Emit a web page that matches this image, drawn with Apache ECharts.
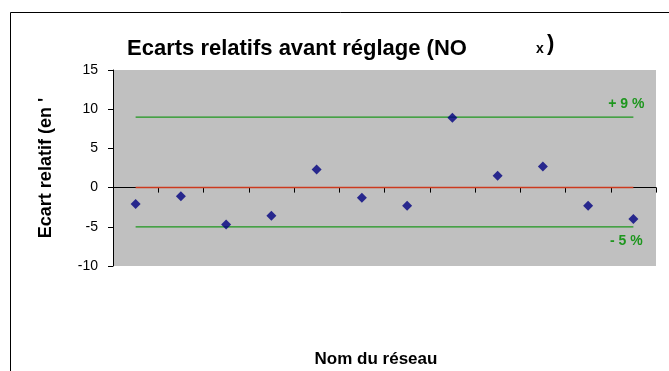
<!DOCTYPE html>
<html>
<head>
<meta charset="utf-8">
<script src="https://cdn.jsdelivr.net/npm/echarts@6/dist/echarts.min.js"></script>
<style>html,body{margin:0;padding:0;background:#fff}#c{width:669px;height:371px}</style>
</head>
<body>
<div id="c"></div>
<script>
var categories = ['1','2','3','4','5','6','7','8','9','10','11','12'];
var ecarts = [-2.1, -1.1, -4.7, -3.6, 2.3, -1.3, -2.3, 8.9, 1.5, 2.7, -2.3, -4.0];
var upperLimit = 9;
var lowerLimit = -5;
var zeroLine = 0;
var yTicks = {min: -10, max: 15, interval: 5};

var FONT = 'Liberation Sans, Arial, sans-serif';
var GREEN = '#1E961E';
var RED = '#CC3A1E';

function constant(v) { return categories.map(function(){ return v; }); }
function labelled(v, text, pos) {
  var arr = constant(v).map(function(x){ return {value: x}; });
  arr[arr.length - 1] = {
    value: v,
    label: {show: true, formatter: text, position: pos, align: 'center',
            offset: [-7, pos === 'top' ? -1 : 2],
            color: GREEN, fontFamily: FONT, fontWeight: 'bold', fontSize: 14}
  };
  return arr;
}

var chart = echarts.init(document.getElementById('c'), null, {renderer: 'canvas'});
chart.setOption({
  animation: false,
  backgroundColor: '#fff',
  title: {
    text: 'Ecarts relatifs avant réglage (NO',
    left: 122, top: 33,
    textStyle: {fontFamily: FONT, fontWeight: 'bold', fontSize: 22, color: '#000'}
  },
  graphic: [
    {type: 'rect', left: 8, top: 10, shape: {width: 700, height: 400},
     style: {fill: 'none', stroke: '#000', lineWidth: 1}, silent: true, z: 100},
    {type: 'text', x: 536, y: 42,
     style: {text: 'x', font: 'bold 14px ' + FONT, fill: '#000'}},
    {type: 'text', x: 547, y: 33,
     style: {text: ')', font: 'bold 22px ' + FONT, fill: '#000'}},
    {type: 'text', x: 376, y: 351,
     style: {text: 'Nom du réseau', font: 'bold 17px ' + FONT, fill: '#000', align: 'center'}}
  ],
  grid: {left: 113, right: 13, top: 70, bottom: 105, show: true,
         backgroundColor: '#C0C0C0', borderWidth: 0},
  xAxis: {
    type: 'category', data: categories, boundaryGap: true,
    axisLine: {lineStyle: {color: '#000', width: 1}},
    axisTick: {show: true, length: 5, lineStyle: {color: '#000'}},
    axisLabel: {show: false},
    splitLine: {show: false}
  },
  yAxis: {
    type: 'value', min: yTicks.min, max: yTicks.max, interval: yTicks.interval,
    name: "Ecart relatif (en '", nameLocation: 'middle', nameGap: 58, nameRotate: 90,
    nameTextStyle: {fontFamily: FONT, fontWeight: 'bold', fontSize: 18, color: '#000'},
    axisLine: {show: true, lineStyle: {color: '#000', width: 1}},
    axisTick: {show: true, length: 5, lineStyle: {color: '#000'}},
    axisLabel: {fontFamily: FONT, fontSize: 14, color: '#000', margin: 15},
    splitLine: {show: false}
  },
  series: [
    {type: 'line', data: labelled(upperLimit, '+ 9 %', 'top'), symbol: 'circle', symbolSize: 0, showSymbol: true,
     lineStyle: {color: GREEN, width: 1.3}, z: 2},
    {type: 'line', data: labelled(lowerLimit, '- 5 %', 'bottom'), symbol: 'circle', symbolSize: 0, showSymbol: true,
     lineStyle: {color: GREEN, width: 1.3}, z: 2},
    {type: 'line', data: constant(zeroLine), symbol: 'none', showSymbol: false,
     lineStyle: {color: RED, width: 1.5}, z: 2},
    {type: 'scatter', data: ecarts, symbol: 'diamond', symbolSize: [10, 10],
     itemStyle: {color: '#000080'}, z: 5}
  ]
});
</script>
</body>
</html>
